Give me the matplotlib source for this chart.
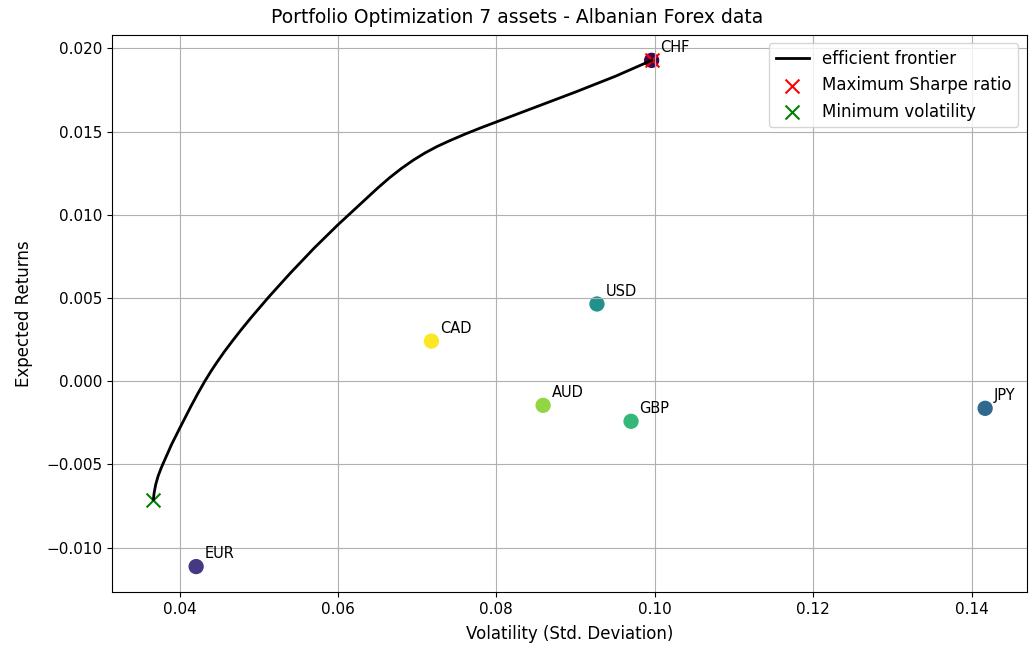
import numpy as np
import matplotlib
matplotlib.use("Agg")
import matplotlib.pyplot as plt

# Valutaer (rækkefølge giver viridis-farverne)
assets = ["CHF", "EUR", "JPY", "USD", "GBP", "AUD", "CAD"]
volatility = [0.0996, 0.0421, 0.1417, 0.0927, 0.0970, 0.0859, 0.0718]
returns = [0.01928, -0.01114, -0.00163, 0.00464, -0.00241, -0.00145, 0.00241]

# Efficient frontier
frontier_vol = [0.0367, 0.0368, 0.0370, 0.0373, 0.0377, 0.0383, 0.0390, 0.0400, 0.0414,
                0.0423, 0.0432, 0.0440, 0.0447, 0.0457, 0.0467, 0.0478, 0.0490, 0.0513,
                0.0540, 0.0570, 0.0600, 0.0625, 0.0650, 0.0665, 0.0680, 0.0695, 0.0710,
                0.0725, 0.0740, 0.0760, 0.0780, 0.0800, 0.0850, 0.0900, 0.0950, 0.0996]
frontier_ret = [-0.00711, -0.00670, -0.00620, -0.00570, -0.00520, -0.00455, -0.00380, -0.00285, -0.00155,
                -0.00075, 0.00000, 0.00062, 0.00112, 0.00180, 0.00243, 0.00310, 0.00380, 0.00508,
                0.00650, 0.00800, 0.00940, 0.01050, 0.01160, 0.01222, 0.01278, 0.01328, 0.01372,
                0.01410, 0.01443, 0.01484, 0.01522, 0.01558, 0.01648, 0.01738, 0.01832, 0.01928]

max_sharpe = (0.0996, 0.01928)
min_vol = (0.0367, -0.00711)

plt.rcParams["font.size"] = 11

fig, ax = plt.subplots(figsize=(10.35, 6.49), dpi=100)
fig.subplots_adjust(left=0.108, right=0.992, top=0.946, bottom=0.088)

ax.scatter(volatility, returns, marker="o", s=100, c=range(len(assets)), cmap="viridis")
for i, txt in enumerate(assets):
    ax.annotate(txt, (volatility[i], returns[i]), xytext=(6, 6), textcoords="offset points", fontsize=10.5)

ax.scatter(max_sharpe[0], max_sharpe[1], marker="x", color="r", s=100, label="Maximum Sharpe ratio")
ax.scatter(min_vol[0], min_vol[1], marker="x", color="g", s=100, label="Minimum volatility")
ax.plot(frontier_vol, frontier_ret, color="black", linewidth=2, label="efficient frontier")

fig.suptitle("Portfolio Optimization 7 assets - Albanian Forex data", fontsize=13.5, y=0.988)
ax.set_xlabel("Volatility (Std. Deviation)", fontsize=12, labelpad=6)
ax.set_ylabel("Expected Returns", fontsize=12, labelpad=9)
ax.grid(True)

handles, labels = ax.get_legend_handles_labels()
order = [2, 0, 1]
ax.legend([handles[i] for i in order], [labels[i] for i in order], loc="upper right", fontsize=12)

fig.savefig("out.png", dpi=100)
